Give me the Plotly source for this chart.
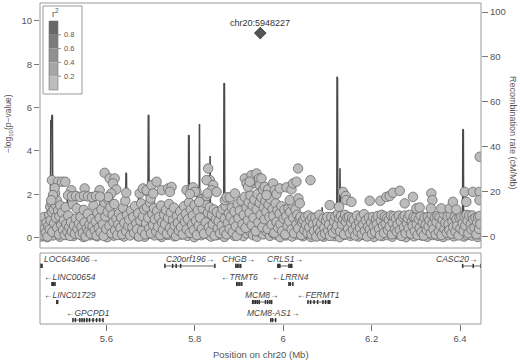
import plotly.graph_objects as go

# ---------------- data ----------------
lead_pos = [5.948227]
lead_logp = [9.44]
lead_label = "chr20:5948227"

# higher-signal SNPs
upper_pos = [5.4771, 5.4907, 5.4997, 5.5072, 5.4832, 5.4794, 5.4755, 5.5962, 5.6075, 5.6188,
             5.6150, 5.6224, 5.6111, 5.6037, 5.5207, 5.5510, 5.5849, 5.6450, 5.6753, 5.6828,
             5.6941, 5.7002, 5.6911, 5.7024, 5.7137, 5.7250, 5.7399, 5.7476, 5.7060, 5.7438,
             5.7815, 5.7928, 5.8041, 5.8100, 5.7964, 5.8003, 5.7890, 5.8303, 5.8342, 5.8267,
             5.8416, 5.8380, 5.8290, 5.8493, 5.8681, 5.8719, 5.8794, 5.8907, 5.9133, 5.9284,
             5.9397, 5.9171, 5.9320, 5.9433, 5.9207, 5.9246, 5.9456, 5.9472, 5.9546, 5.9510,
             5.9585, 5.9659, 5.9623, 5.9772, 5.9811, 5.9849, 5.9924, 6.0076, 6.0188, 6.0224,
             6.0301, 6.0337, 6.0618, 6.0150, 6.0345, 6.0376, 6.1054, 6.1354, 6.1415, 6.1431,
             6.1544, 6.1264, 6.1958, 6.2199, 6.2335, 6.2410, 6.2484, 6.2636, 6.2749, 6.2936,
             6.3013, 6.3087, 6.3352, 6.3375, 6.3340, 6.3578, 6.3766, 6.3840, 6.3917, 6.4105,
             6.4143, 6.4292, 6.4443, 6.4440, 6.4445,
             5.5133, 5.5223, 5.5314, 5.5404, 5.5494, 5.5585, 5.5675, 5.5765, 5.5856]
upper_logp = [2.65, 2.58, 2.58, 2.58, 2.28, 1.96, 1.73, 2.99, 2.73, 2.73,
              2.50, 2.22, 2.04, 1.88, 2.19, 2.27, 2.19, 2.07, 2.04, 2.27,
              2.11, 1.81, 2.19, 2.42, 2.58, 2.19, 2.27, 2.34, 2.04, 2.11,
              2.19, 2.27, 2.11, 1.65, 2.32, 2.11, 2.01, 3.19, 2.65, 2.65,
              2.42, 2.19, 2.04, 2.11, 1.73, 1.86, 1.86, 2.04, 2.73, 2.88,
              2.96, 2.50, 2.50, 2.58, 2.34, 2.58, 2.73, 2.42, 2.22, 2.73,
              2.34, 2.22, 1.96, 2.50, 2.19, 2.01, 2.27, 2.32, 2.22, 2.50,
              2.58, 3.19, 2.65, 1.73, 1.81, 1.58, 1.50, 2.11, 1.92, 1.73,
              1.65, 1.42, 1.70, 1.70, 1.88, 1.92, 2.07, 2.16, 1.58, 1.88,
              1.35, 1.39, 2.04, 1.73, 1.35, 1.35, 1.35, 1.65, 1.30, 2.11,
              1.65, 2.11, 2.11, 1.73, 3.73,
              1.95, 1.90, 1.92, 1.88, 1.93, 1.90, 1.87, 1.92, 1.89]

# main body of SNPs (low signal)
cloud_pos = [5.451, 5.453, 5.455, 5.457, 5.459, 5.461, 5.463, 5.465, 5.467, 5.469,
             5.471, 5.472, 5.473, 5.474, 5.476, 5.477, 5.478, 5.480, 5.481, 5.482,
             5.484, 5.485, 5.486, 5.488, 5.489, 5.491, 5.493, 5.494, 5.496, 5.498,
             5.500, 5.502, 5.504, 5.506, 5.508, 5.510, 5.512, 5.514, 5.516, 5.518,
             5.520, 5.522, 5.524, 5.527, 5.529, 5.531, 5.533, 5.535, 5.538, 5.540,
             5.542, 5.544, 5.547, 5.549, 5.551, 5.553, 5.556, 5.558, 5.560, 5.562,
             5.565, 5.567, 5.569, 5.571, 5.574, 5.576, 5.578, 5.580, 5.583, 5.585,
             5.587, 5.589, 5.592, 5.594, 5.596, 5.598, 5.600, 5.603, 5.605, 5.607,
             5.609, 5.612, 5.614, 5.616, 5.618, 5.620, 5.623, 5.625, 5.627, 5.629,
             5.632, 5.634, 5.636, 5.638, 5.641, 5.643, 5.645, 5.647, 5.650, 5.652,
             5.654, 5.656, 5.659, 5.661, 5.663, 5.665, 5.668, 5.670, 5.672, 5.674,
             5.677, 5.679, 5.681, 5.683, 5.686, 5.688, 5.690, 5.692, 5.695, 5.697,
             5.699, 5.701, 5.704, 5.706, 5.708, 5.710, 5.713, 5.715, 5.717, 5.719,
             5.722, 5.724, 5.726, 5.728, 5.731, 5.733, 5.735, 5.737, 5.740, 5.742,
             5.744, 5.746, 5.749, 5.751, 5.753, 5.755, 5.758, 5.760, 5.762, 5.764,
             5.767, 5.769, 5.771, 5.773, 5.776, 5.778, 5.780, 5.782, 5.785, 5.787,
             5.789, 5.791, 5.794, 5.796, 5.798, 5.800, 5.803, 5.805, 5.807, 5.809,
             5.812, 5.814, 5.816, 5.818, 5.821, 5.823, 5.825, 5.827, 5.830, 5.832,
             5.834, 5.836, 5.839, 5.841, 5.843, 5.845, 5.848, 5.850, 5.852, 5.854,
             5.857, 5.859, 5.861, 5.863, 5.866, 5.868, 5.870, 5.872, 5.875, 5.877,
             5.879, 5.881, 5.884, 5.886, 5.888, 5.890, 5.893, 5.895, 5.897, 5.899,
             5.902, 5.904, 5.906, 5.908, 5.911, 5.913, 5.915, 5.917, 5.920, 5.922,
             5.924, 5.926, 5.929, 5.931, 5.933, 5.935, 5.938, 5.940, 5.942, 5.944,
             5.947, 5.949, 5.951, 5.953, 5.956, 5.958, 5.960, 5.962, 5.965, 5.967,
             5.969, 5.971, 5.974, 5.976, 5.978, 5.980, 5.983, 5.985, 5.987, 5.989,
             5.992, 5.994, 5.996, 5.998, 6.001, 6.003, 6.005, 6.007, 6.010, 6.012,
             6.014, 6.016, 6.019, 6.021, 6.023, 6.025, 6.028, 6.030, 6.032, 6.034,
             6.037, 6.039, 6.041, 6.043, 6.046, 6.048, 6.050, 6.052, 6.055, 6.057,
             6.059, 6.061, 6.064, 6.066, 6.068, 6.070, 6.073, 6.075, 6.077, 6.079,
             6.082, 6.084, 6.086, 6.088, 6.091, 6.093, 6.095, 6.097, 6.100, 6.102,
             6.104, 6.106, 6.109, 6.111, 6.113, 6.115, 6.118, 6.120, 6.122, 6.124,
             6.127, 6.129, 6.131, 6.133, 6.136, 6.138, 6.140, 6.142, 6.145, 6.147,
             6.149, 6.151, 6.154, 6.156, 6.158, 6.160, 6.163, 6.165, 6.167, 6.169,
             6.172, 6.174, 6.176, 6.178, 6.181, 6.183, 6.185, 6.187, 6.190, 6.192,
             6.194, 6.196, 6.199, 6.201, 6.203, 6.205, 6.208, 6.210, 6.212, 6.214,
             6.217, 6.219, 6.221, 6.223, 6.226, 6.228, 6.230, 6.232, 6.235, 6.237,
             6.239, 6.241, 6.244, 6.246, 6.248, 6.250, 6.253, 6.255, 6.257, 6.259,
             6.262, 6.264, 6.266, 6.268, 6.271, 6.273, 6.275, 6.277, 6.280, 6.282,
             6.284, 6.286, 6.289, 6.291, 6.293, 6.295, 6.298, 6.300, 6.302, 6.304,
             6.307, 6.309, 6.311, 6.313, 6.316, 6.318, 6.320, 6.322, 6.325, 6.327,
             6.329, 6.331, 6.334, 6.336, 6.338, 6.340, 6.343, 6.345, 6.347, 6.349,
             6.352, 6.354, 6.356, 6.358, 6.361, 6.363, 6.365, 6.367, 6.370, 6.372,
             6.374, 6.376, 6.379, 6.381, 6.383, 6.385, 6.388, 6.390, 6.392, 6.394,
             6.397, 6.399, 6.401, 6.403, 6.406, 6.408, 6.410, 6.412, 6.415, 6.417,
             6.419, 6.421, 6.424, 6.426, 6.428, 6.430, 6.433, 6.435, 6.437, 6.439,
             6.441, 6.443, 6.445, 6.446]
cloud_logp = [0.85, 0.32, 0.61, 0.10, 0.95, 0.44, 0.22, 0.70, 0.05, 0.52,
              1.05, 0.38, 1.42, 0.80, 1.61, 1.18, 0.26, 1.88, 1.30, 0.66,
              2.05, 1.52, 0.92, 1.72, 0.45, 1.25, 0.15, 0.98, 1.48, 0.58,
              1.15, 0.35, 0.80, 0.12, 1.40, 0.62, 0.28, 1.02, 0.48, 0.08,
              0.72, 0.30, 1.55, 0.55, 0.18, 0.88, 1.35, 0.40, 0.65, 0.14,
              0.95, 0.50, 0.22, 1.28, 0.70, 0.06, 0.42, 1.10, 0.28, 0.60,
              0.18, 0.85, 0.52, 1.48, 0.33, 0.74, 0.10, 1.15, 0.46, 0.90,
              0.25, 1.30, 0.62, 0.08, 1.62, 0.98, 0.40, 1.20, 1.75, 0.55,
              1.40, 0.20, 1.05, 0.72, 1.55, 0.35, 0.88, 0.12, 0.60, 1.12,
              0.45, 0.92, 0.15, 1.38, 0.68, 1.70, 0.30, 1.05, 0.55, 0.82,
              0.10, 1.25, 0.48, 0.95, 0.22, 1.45, 0.65, 0.38, 1.12, 0.05,
              0.78, 1.58, 0.32, 0.98, 1.30, 0.15, 0.66, 1.40, 0.92, 0.42,
              1.62, 0.20, 1.10, 0.58, 1.35, 0.85, 0.28, 1.22, 0.50, 0.95,
              0.12, 1.48, 0.70, 0.36, 1.05, 0.62, 1.28, 0.18, 0.90, 1.55,
              0.44, 1.15, 0.25, 0.80, 1.38, 0.55, 0.08, 1.00, 0.68, 0.32,
              1.20, 0.48, 0.90, 0.15, 1.45, 0.72, 1.10, 0.38, 0.85, 1.62,
              0.22, 1.30, 0.60, 1.02, 0.35, 1.50, 0.78, 0.12, 1.25, 0.55,
              0.92, 1.78, 0.40, 1.35, 0.18, 1.60, 0.70, 1.92, 1.15, 0.48,
              1.40, 0.28, 1.05, 0.62, 1.30, 0.10, 0.85, 1.18, 0.42, 0.75,
              0.20, 1.08, 0.55, 1.32, 0.30, 0.88, 1.45, 0.15, 0.68, 1.12,
              0.40, 0.95, 1.38, 0.25, 0.75, 1.20, 0.52, 0.08, 1.55, 0.90,
              1.25, 0.35, 1.70, 0.62, 1.05, 1.88, 0.45, 1.40, 0.80, 1.62,
              1.15, 1.95, 0.58, 1.48, 0.92, 1.75, 0.30, 1.30, 2.02, 0.70,
              1.60, 1.05, 1.85, 0.48, 1.38, 0.85, 1.68, 1.20, 0.40, 1.52,
              0.95, 1.78, 0.60, 1.32, 1.00, 0.22, 1.58, 0.72, 1.25, 0.45,
              1.10, 0.62, 1.45, 0.30, 0.88, 1.28, 0.15, 0.98, 0.55, 1.35,
              0.75, 1.18, 0.38, 1.52, 0.92, 0.20, 1.30, 0.62, 1.05, 0.42,
              0.85, 0.95, 0.12, 0.70, 0.80, 0.35, 0.95, 0.58, 0.22, 1.02,
              0.48, 0.80, 0.15, 0.92, 0.62, 0.30, 0.92, 0.05, 0.70, 0.40,
              1.05, 0.25, 0.65, 0.10, 0.88, 0.45, 0.18, 0.78, 0.95, 0.32,
              0.60, 0.08, 0.95, 0.42, 0.22, 0.75, 0.98, 0.38, 0.55, 1.10,
              0.88, 0.30, 1.00, 0.62, 0.85, 0.15, 1.05, 0.72, 0.92, 0.40,
              0.95, 0.20, 0.68, 0.90, 0.35, 0.82, 0.10, 0.55, 1.02, 0.28,
              0.72, 0.45, 0.92, 0.15, 0.60, 1.08, 0.32, 0.80, 0.05, 0.50,
              0.92, 0.38, 0.70, 0.18, 0.95, 0.52, 0.25, 0.85, 0.62, 1.00,
              0.40, 0.10, 0.78, 1.05, 0.55, 0.22, 0.98, 0.65, 0.90, 0.35,
              0.82, 0.50, 1.02, 0.15, 0.68, 0.98, 0.40, 0.88, 0.28, 0.60,
              1.02, 0.35, 0.75, 0.08, 0.95, 0.48, 1.02, 0.20, 0.65, 0.90,
              0.42, 1.05, 0.18, 0.72, 0.55, 0.95, 0.30, 0.92, 0.62, 0.12,
              0.85, 0.45, 1.02, 0.25, 0.70, 0.10, 0.92, 0.58, 0.35, 0.95,
              0.52, 0.80, 0.20, 1.05, 0.65, 0.38, 0.90, 0.15, 0.72, 1.00,
              0.30, 0.95, 0.55, 0.12, 0.82, 1.10, 0.40, 0.68, 0.22, 0.98,
              0.62, 0.35, 1.02, 0.18, 0.75, 0.48, 0.95, 0.28, 0.85, 0.55,
              0.10, 0.92, 0.42, 0.98, 0.65, 0.30, 0.98, 0.55, 1.05, 0.78,
              0.20, 1.02, 0.60, 0.38, 1.02, 0.85, 0.45, 0.92, 0.15, 0.70,
              0.95, 0.40, 1.00, 0.62]

# near-zero SNPs along the bottom
base_pos = [5.452, 5.458, 5.466, 5.473, 5.479, 5.487, 5.495, 5.503, 5.511, 5.519,
            5.526, 5.534, 5.541, 5.548, 5.557, 5.564, 5.572, 5.579, 5.588, 5.595,
            5.602, 5.610, 5.617, 5.626, 5.633, 5.640, 5.649, 5.657, 5.664, 5.671,
            5.680, 5.687, 5.694, 5.702, 5.709, 5.716, 5.725, 5.732, 5.739, 5.747,
            5.754, 5.761, 5.770, 5.777, 5.784, 5.792, 5.799, 5.806, 5.815, 5.822,
            5.829, 5.837, 5.844, 5.851, 5.860, 5.867, 5.874, 5.882, 5.889, 5.896,
            5.903, 5.910, 5.918, 5.925, 5.932, 5.941, 5.948, 5.955, 5.963, 5.970,
            5.977, 5.984, 5.993, 6.000, 6.006, 6.013, 6.020, 6.026, 6.033, 6.040,
            6.045, 6.051, 6.058, 6.063, 6.069, 6.074, 6.080, 6.087, 6.092, 6.098,
            6.103, 6.110, 6.116, 6.121, 6.128, 6.134, 6.139, 6.146, 6.152, 6.157,
            6.164, 6.170, 6.175, 6.182, 6.188, 6.193, 6.200, 6.206, 6.211, 6.218,
            6.224, 6.229, 6.236, 6.242, 6.247, 6.254, 6.260, 6.265, 6.272, 6.278,
            6.283, 6.290, 6.296, 6.301, 6.308, 6.314, 6.319, 6.326, 6.332, 6.337,
            6.344, 6.350, 6.355, 6.362, 6.368, 6.373, 6.380, 6.386, 6.391, 6.398,
            6.404, 6.409, 6.416, 6.422, 6.427, 6.434, 6.440, 6.444]
base_logp = [0.05, 0.18, 0.02, 0.25, 0.10, 0.30, 0.04, 0.20, 0.12, 0.28,
             0.08, 0.22, 0.15, 0.03, 0.26, 0.11, 0.19, 0.06, 0.24, 0.14,
             0.02, 0.20, 0.09, 0.27, 0.13, 0.05, 0.23, 0.16, 0.31, 0.07,
             0.21, 0.04, 0.17, 0.26, 0.10, 0.29, 0.03, 0.19, 0.12, 0.24,
             0.06, 0.22, 0.14, 0.30, 0.08, 0.18, 0.02, 0.25, 0.11, 0.20,
             0.15, 0.05, 0.27, 0.12, 0.21, 0.03, 0.18, 0.26, 0.09, 0.16,
             0.23, 0.07, 0.19, 0.30, 0.11, 0.04, 0.24, 0.15, 0.28, 0.08,
             0.20, 0.13, 0.02, 0.26, 0.10, 0.18, 0.05, 0.22, 0.14, 0.29,
             0.06, 0.21, 0.12, 0.03, 0.25, 0.16, 0.09, 0.27, 0.04, 0.19,
             0.11, 0.24, 0.07, 0.18, 0.02, 0.22, 0.13, 0.28, 0.08, 0.17,
             0.26, 0.05, 0.20, 0.12, 0.30, 0.09, 0.16, 0.03, 0.23, 0.14,
             0.07, 0.21, 0.11, 0.27, 0.04, 0.18, 0.25, 0.10, 0.15, 0.02,
             0.22, 0.13, 0.06, 0.28, 0.17, 0.09, 0.24, 0.04, 0.19, 0.12,
             0.26, 0.08, 0.16, 0.03, 0.21, 0.11, 0.29, 0.06, 0.18, 0.14,
             0.23, 0.05, 0.12, 0.27, 0.09, 0.19, 0.03, 0.15]

# recombination rate (cM/Mb)
recomb_pos = [5.4500, 5.4550, 5.4620, 5.4680, 5.4735, 5.4745, 5.4760, 5.4770, 5.4780, 5.4790,
              5.4850, 5.4950, 5.5050, 5.5110, 5.5120, 5.5860, 5.5870, 5.5950, 5.6000, 5.6400,
              5.6435, 5.6445, 5.6455, 5.6465, 5.6600, 5.6715, 5.6722, 5.6732, 5.6740, 5.6940,
              5.6950, 5.6960, 5.6970, 5.7075, 5.7082, 5.7090, 5.7200, 5.7450, 5.7855, 5.7862,
              5.7872, 5.7880, 5.7890, 5.8100, 5.8107, 5.8115, 5.8340, 5.8347, 5.8355, 5.8655,
              5.8662, 5.8672, 5.8680, 5.8800, 5.9000, 5.9300, 5.9600, 5.9900, 6.0200, 6.0400,
              6.0800, 6.0875, 6.0881, 6.0888, 6.1000, 6.1200, 6.1213, 6.1219, 6.1229, 6.1236,
              6.1280, 6.1286, 6.1293, 6.1400, 6.1600, 6.1800, 6.2200, 6.2500, 6.2630, 6.3400,
              6.3450, 6.3800, 6.4058, 6.4065, 6.4075, 6.4082, 6.4200, 6.4400, 6.4475]
recomb_rate = [3.0, 6.5, 2.0, 4.5, 4.0, 52.0, 50.0, 54.0, 54.0, 3.5,
               2.0, 6.0, 5.0, 5.0, 17.5, 17.5, 3.0, 2.5, 1.0, 2.0,
               2.5, 28.6, 28.0, 3.0, 1.5, 2.0, 20.0, 20.0, 2.0, 3.0,
               54.2, 54.0, 3.0, 2.0, 23.0, 2.0, 4.0, 1.0, 3.0, 45.3,
               45.0, 12.0, 3.0, 2.0, 50.2, 2.5, 2.0, 36.0, 2.0, 2.0,
               68.4, 68.0, 2.0, 1.5, 3.0, 1.0, 2.0, 1.0, 2.0, 4.0,
               1.5, 2.0, 13.2, 2.0, 3.0, 2.0, 3.0, 71.2, 70.5, 14.0,
               14.0, 30.5, 4.0, 2.0, 5.0, 1.0, 2.0, 4.0, 4.5, 4.0,
               1.0, 2.0, 2.0, 47.9, 47.5, 3.0, 5.0, 3.0, 4.0]

# genes
gene_names = ["LOC643406", "C20orf196", "CHGB", "CRLS1", "CASC20", "LINC00654", "TRMT6",
              "LRRN4", "LINC01729", "MCM8", "FERMT1", "GPCPD1", "MCM8-AS1"]
gene_start = [5.4515, 5.7325, 5.8930, 5.9880, 6.4060, 5.4770, 5.8950,
              6.0130, 5.4880, 5.9310, 6.0560, 5.5245, 5.9720]
gene_end = [5.4545, 5.8455, 5.9040, 6.0195, 6.4470, 5.4840, 5.9065,
            6.0220, 5.4900, 5.9740, 6.1055, 5.5925, 5.9830]
gene_strand = ["+", "+", "+", "+", "+", "-", "-", "-", "-", "+", "-", "-", "+"]
gene_row = [1, 1, 1, 1, 1, 2, 2, 2, 3, 3, 3, 4, 4]
gene_exons = [
    [5.4515, 5.4530, 5.4545],
    [5.7325, 5.7500, 5.7580, 5.7680, 5.8455],
    [5.8930, 5.8960, 5.9000, 5.9040],
    [5.9880, 5.9900, 5.9925, 6.0130, 6.0160, 6.0195],
    [6.4060, 6.4300, 6.4470],
    [5.4770, 5.4790, 5.4810, 5.4840],
    [5.8950, 5.8980, 5.9020, 5.9065],
    [6.0130, 6.0160, 6.0220],
    [5.4880, 5.4900],
    [5.9310, 5.9340, 5.9380, 5.9420, 5.9460, 5.9600, 5.9650, 5.9700, 5.9740],
    [6.0560, 6.0620, 6.0700, 6.0780, 6.0900, 6.0960, 6.1020, 6.1055],
    [5.5245, 5.5300, 5.5400, 5.5450, 5.5500, 5.5560, 5.5620, 5.5700, 5.5780, 5.5850, 5.5925],
    [5.9720, 5.9760, 5.9830],
]

x_ticks = [5.6, 5.8, 6.0, 6.2, 6.4]
x_tick_labels = ["5.6", "5.8", "6", "6.2", "6.4"]
logp_ticks = [0, 2, 4, 6, 8, 10]
recomb_ticks = [0, 20, 40, 60, 80, 100]
ld_labels = ["0.8", "0.6", "0.4", "0.2"]
ld_colors = ["#676767", "#7b7b7b", "#909090", "#a6a6a6", "#bdbdbd"]

# ---------------- figure ----------------
W, H = 520, 361
ML, MR, MT, MB = 40, 39, 3, 37
PW, PH = W - ML - MR, H - MT - MB
X_RANGE = [5.4500, 6.4475]
LOGP_RANGE = [-0.48, 10.83]
RECOMB_RANGE = [-4.9, 104.0]
TOP_DOMAIN = [(PH - 245) / PH, 1.0]
GENE_DOMAIN = [0.0, 71 / PH]
FONT = "Liberation Sans, Arial, Helvetica, sans-serif"
TXT = "#555555"


def px(xp, yp):
    """pixel in the image -> paper coordinates"""
    return (xp - ML) / PW, (H - MB - yp) / PH


fig = go.Figure()

fig.add_trace(go.Scatter(x=recomb_pos, y=recomb_rate, mode="lines",
                         line=dict(color="#4a4a4a", width=1.6),
                         xaxis="x", yaxis="y", hoverinfo="skip", showlegend=False))

all_pos = base_pos + cloud_pos + upper_pos
all_logp = base_logp + cloud_logp + upper_logp
fig.add_trace(go.Scatter(x=all_pos, y=all_logp, mode="markers",
                         marker=dict(size=9.5, color="#bcbcbc",
                                     line=dict(color="#6a6a6a", width=0.8)),
                         xaxis="x", yaxis="y2", showlegend=False))

fig.add_trace(go.Scatter(x=lead_pos, y=lead_logp, mode="markers",
                         marker=dict(symbol="diamond", size=9, color="#555555",
                                     line=dict(color="#333333", width=0.8)),
                         xaxis="x", yaxis="y2", showlegend=False))

# gene glyphs
for s, e, r, ex in zip(gene_start, gene_end, gene_row, gene_exons):
    fig.add_trace(go.Scatter(x=[s, e], y=[r, r], mode="lines",
                             line=dict(color="#444444", width=0.8),
                             xaxis="x2", yaxis="y3", hoverinfo="skip", showlegend=False))
    fig.add_trace(go.Scatter(x=ex, y=[r] * len(ex), mode="markers",
                             marker=dict(symbol="line-ns", size=3,
                                         line=dict(color="#333333", width=1.5)),
                             xaxis="x2", yaxis="y3", hoverinfo="skip", showlegend=False))

annotations = []
shapes = []

# gene labels
mb_per_px = (X_RANGE[1] - X_RANGE[0]) / PW
for name, s, e, r, st in zip(gene_names, gene_start, gene_end, gene_row, gene_strand):
    label = f"<i>{name}\u2192</i>" if st == "+" else f"<i>\u2190{name}</i>"
    half = (len(name) + 1.5) * 4.9 / 2 * mb_per_px
    cx = (s + e) / 2
    anchor = "center"
    if cx - half < X_RANGE[0] + 2 * mb_per_px:
        cx, anchor = X_RANGE[0] + 2 * mb_per_px, "left"
    elif cx + half > X_RANGE[1] - 1 * mb_per_px:
        cx, anchor = X_RANGE[1] - 1 * mb_per_px, "right"
    annotations.append(dict(x=cx, y=r, xref="x2", yref="y3", text=label, showarrow=False,
                            xanchor=anchor, yanchor="middle", yshift=7,
                            font=dict(family=FONT, size=8.5, color="#444444")))

# lead SNP label
annotations.append(dict(x=lead_pos[0], y=lead_logp[0], xref="x", yref="y2", text=lead_label,
                        showarrow=False, yshift=10, yanchor="middle",
                        font=dict(family=FONT, size=9, color="#333333")))

# axis titles
tx, ty = px(8, 124)
annotations.append(dict(x=tx, y=ty, xref="paper", yref="paper",
                        text="\u2212log<sub>10</sub>(p\u2212value)", textangle=-90,
                        showarrow=False, xanchor="center", yanchor="middle",
                        font=dict(family=FONT, size=8.5, color=TXT)))
tx, ty = px(513, 133)
annotations.append(dict(x=tx, y=ty, xref="paper", yref="paper",
                        text="Recombination rate (cM/Mb)", textangle=90,
                        showarrow=False, xanchor="center", yanchor="middle",
                        font=dict(family=FONT, size=9, color=TXT)))
tx, ty = px(261, 354)
annotations.append(dict(x=tx, y=ty, xref="paper", yref="paper",
                        text="Position on chr20 (Mb)", showarrow=False,
                        xanchor="center", yanchor="middle",
                        font=dict(family=FONT, size=9.5, color=TXT)))

# panel boxes
shapes.append(dict(type="rect", xref="paper", yref="paper", x0=0, x1=1,
                   y0=TOP_DOMAIN[0], y1=TOP_DOMAIN[1], line=dict(color="#9a9a9a", width=1),
                   layer="above"))
shapes.append(dict(type="rect", xref="paper", yref="paper", x0=0, x1=1,
                   y0=GENE_DOMAIN[0], y1=GENE_DOMAIN[1], line=dict(color="#9a9a9a", width=1),
                   layer="above"))

# LD legend
x0, y0 = px(43, 6)
x1, y1 = px(82, 94)
shapes.append(dict(type="rect", xref="paper", yref="paper", x0=x0, x1=x1, y0=y1, y1=y0,
                   fillcolor="white", line=dict(color="#9a9a9a", width=1), layer="above"))
bar_top, bar_bot = 21, 90
n = len(ld_colors)
step = (bar_bot - bar_top) / n
for i, c in enumerate(ld_colors):
    bx0, by0 = px(49, bar_top + i * step)
    bx1, by1 = px(58, bar_top + (i + 1) * step)
    shapes.append(dict(type="rect", xref="paper", yref="paper", x0=bx0, x1=bx1,
                       y0=by1, y1=by0, fillcolor=c, line=dict(width=0), layer="above"))
bx0, by0 = px(49, bar_top)
bx1, by1 = px(58, bar_bot)
shapes.append(dict(type="rect", xref="paper", yref="paper", x0=bx0, x1=bx1, y0=by1, y1=by0,
                   line=dict(color="#777777", width=0.6), layer="above"))
for i, lab in enumerate(ld_labels):
    yy = bar_top + (i + 1) * step
    tx0, tyy = px(58, yy)
    tx1, _ = px(61, yy)
    shapes.append(dict(type="line", xref="paper", yref="paper", x0=tx0, x1=tx1,
                       y0=tyy, y1=tyy, line=dict(color="#777777", width=0.8), layer="above"))
    lx, _ = px(62, yy)
    annotations.append(dict(x=lx, y=tyy, xref="paper", yref="paper", text=lab,
                            showarrow=False, xanchor="left", yanchor="middle",
                            font=dict(family=FONT, size=7.5, color=TXT)))
rx, ry = px(55, 13)
annotations.append(dict(x=rx, y=ry, xref="paper", yref="paper", text="r<sup>2</sup>",
                        showarrow=False, xanchor="center", yanchor="middle",
                        font=dict(family=FONT, size=9, color=TXT)))

axis_common = dict(showgrid=False, zeroline=False, tickcolor="#7a7a7a",
                   tickfont=dict(family=FONT, size=9.5, color=TXT))

fig.update_layout(
    width=W, height=H, autosize=False,
    margin=dict(l=ML, r=MR, t=MT, b=MB, pad=0),
    paper_bgcolor="white", plot_bgcolor="white",
    showlegend=False,
    xaxis=dict(domain=[0, 1], range=X_RANGE, anchor="y", showticklabels=False,
               ticks="", showline=False, showgrid=False, zeroline=False),
    yaxis=dict(domain=TOP_DOMAIN, range=RECOMB_RANGE, anchor="x", side="right",
               tickvals=recomb_ticks, ticks="outside", ticklen=6, showline=False,
               **axis_common),
    yaxis2=dict(range=LOGP_RANGE, overlaying="y", anchor="x", side="left",
                tickvals=logp_ticks, ticks="outside", ticklen=5, showline=False,
                **axis_common),
    xaxis2=dict(domain=[0, 1], range=X_RANGE, anchor="y3", tickvals=x_ticks,
                ticktext=x_tick_labels, ticks="outside", ticklen=6, showline=False,
                **axis_common),
    yaxis3=dict(domain=GENE_DOMAIN, range=[4.22, 0.28], anchor="x2", visible=False),
    annotations=annotations,
    shapes=shapes,
)

fig.write_html("out.html", config={"displayModeBar": False},
               post_script="document.body.style.margin='0';document.body.style.overflow='hidden';")
